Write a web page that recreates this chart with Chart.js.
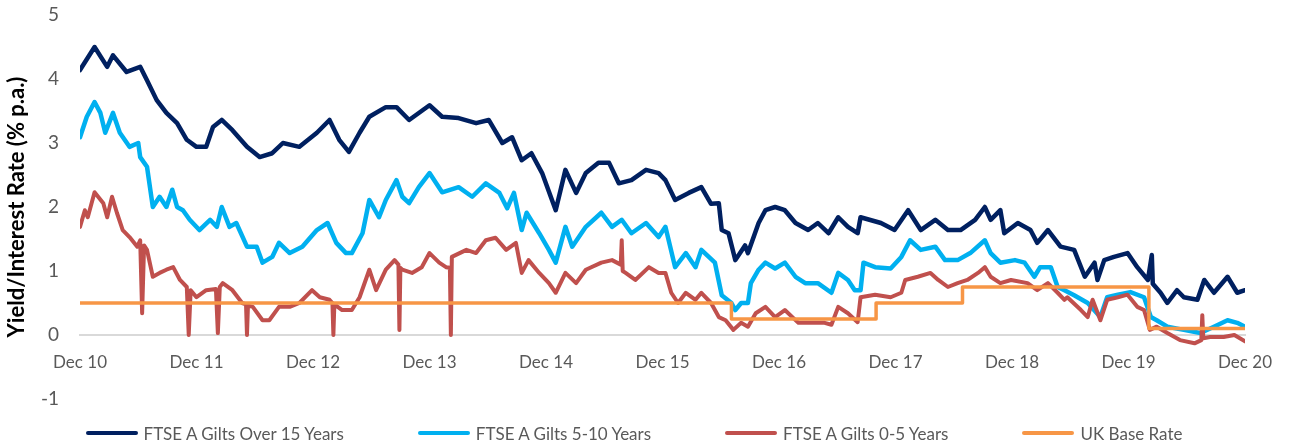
<!DOCTYPE html>
<html>
<head>
<meta charset="utf-8">
<script src="https://cdn.jsdelivr.net/npm/chart.js@4/dist/chart.umd.min.js"></script>
<style>
  body { margin: 0; background: #fff; }
  #wrap { position: relative; width: 1289px; height: 446px; }
  #chart { position: absolute; left: 0; top: 0; }
  #legend {
    position: absolute; left: 0; top: 421px; width: 1268px; height: 24px;
    display: flex; justify-content: center; align-items: center; gap: 74px;
    font-family: Lato, "Noto Sans", sans-serif; font-size: 17px; color: #595959;
  }
  #legend .item { display: flex; align-items: center; white-space: nowrap; }
  #legend .swatch { width: 52px; height: 4px; margin-right: 6px; border-radius: 2px; }
</style>
</head>
<body>
<div id="wrap">
  <canvas id="chart" width="1289" height="446"></canvas>
  <div id="legend"></div>
</div>
<script>
// x values are months since Dec 2010, y values are % p.a.
var tickLabels = ['Dec 10', 'Dec 11', 'Dec 12', 'Dec 13', 'Dec 14', 'Dec 15',
                  'Dec 16', 'Dec 17', 'Dec 18', 'Dec 19', 'Dec 20'];

var over15 = [
  [0,4.14],[1.5,4.5],[2.8,4.19],[3.4,4.37],[4.8,4.11],[6.2,4.19],[6.9,3.98],[7.9,3.67],
  [8.9,3.47],[10.0,3.31],[11.0,3.05],[12.0,2.94],[13.0,2.94],[13.7,3.25],[14.6,3.36],
  [15.7,3.2],[17.2,2.94],[18.5,2.78],[19.8,2.84],[20.9,3.0],[22.6,2.94],[24.4,3.16],
  [25.7,3.36],[26.7,3.05],[27.7,2.86],[28.8,3.16],[29.8,3.41],[31.5,3.56],[32.6,3.56],
  [33.9,3.36],[36.0,3.59],[37.3,3.41],[39.0,3.39],[40.8,3.31],[42.1,3.36],[43.5,3.0],
  [44.5,3.09],[45.5,2.73],[46.5,2.84],[47.6,2.53],[49.0,1.95],[50.0,2.58],[51.1,2.22],
  [52.1,2.53],[53.4,2.69],[54.5,2.69],[55.5,2.37],[56.8,2.42],[58.3,2.58],[59.6,2.53],
  [60.3,2.42],[61.3,2.11],[62.7,2.22],[64.0,2.31],[65.0,2.05],[65.8,2.06],[66.1,1.64],
  [66.8,1.59],[67.5,1.17],[68.5,1.4],[68.8,1.28],[69.9,1.75],[70.6,1.95],[71.6,2.0],
  [72.6,1.95],[73.7,1.75],[75.0,1.64],[76.0,1.75],[77.1,1.59],[78.1,1.84],[79.1,1.69],
  [80.1,1.59],[80.4,1.84],[82.5,1.75],[83.9,1.64],[85.3,1.95],[86.6,1.64],[88.1,1.8],
  [89.4,1.64],[90.7,1.64],[92.2,1.8],[93.2,2.0],[93.8,1.8],[94.8,1.95],[95.2,1.59],
  [96.6,1.75],[97.9,1.64],[98.6,1.44],[99.7,1.64],[101.0,1.38],[102.4,1.33],[103.5,0.91],
  [104.5,1.13],[104.8,0.86],[105.5,1.17],[106.5,1.22],[107.9,1.28],[108.9,1.06],[110.0,0.86],
  [110.4,1.25],[110.5,0.8],[111.3,0.66],[112.0,0.5],[113.0,0.7],[113.7,0.59],[115.1,0.55],
  [115.8,0.86],[116.8,0.66],[118.2,0.91],[119.2,0.66],[120,0.7]
];

var gilts5to10 = [
  [0,3.09],[0.7,3.41],[1.5,3.64],[2.1,3.47],[2.6,3.16],[3.4,3.47],[4.1,3.16],[5.1,2.94],
  [6.0,3.0],[6.2,2.78],[6.9,2.63],[7.5,2.0],[8.2,2.16],[8.9,2.0],[9.5,2.27],[10.0,2.0],
  [10.6,1.95],[11.3,1.8],[12.3,1.64],[13.4,1.8],[14.1,1.69],[14.6,2.0],[15.4,1.69],
  [16.1,1.75],[17.2,1.38],[18.2,1.38],[18.8,1.13],[19.8,1.22],[20.5,1.44],[21.6,1.28],
  [22.9,1.38],[24.4,1.64],[25.5,1.75],[26.4,1.44],[27.4,1.28],[28.0,1.28],[29.1,1.59],
  [29.8,2.11],[30.8,1.84],[31.5,2.11],[32.6,2.42],[33.2,2.16],[33.9,2.06],[34.9,2.31],
  [36.0,2.53],[37.3,2.23],[39.0,2.31],[40.4,2.16],[41.8,2.37],[43.2,2.22],[44.0,1.98],
  [44.7,2.22],[45.5,1.64],[46.0,1.91],[47.3,1.59],[48.3,1.33],[49.0,1.13],[50.0,1.69],
  [50.7,1.38],[52.1,1.69],[53.7,1.91],[54.8,1.69],[55.8,1.8],[56.8,1.59],[58.3,1.75],
  [59.6,1.53],[60.3,1.69],[61.3,1.06],[62.4,1.28],[63.4,1.06],[64.0,1.33],[65.4,1.13],
  [66.1,0.62],[67.1,0.5],[67.5,0.39],[68.1,0.5],[68.8,0.5],[69.1,0.81],[69.9,1.02],
  [70.6,1.13],[71.6,1.04],[72.6,1.13],[73.7,0.91],[74.7,0.81],[76.0,0.81],[77.4,0.66],
  [78.1,0.97],[79.1,0.86],[79.8,0.7],[80.4,0.7],[80.7,1.13],[81.9,1.06],[83.5,1.04],
  [84.6,1.22],[85.5,1.48],[86.6,1.33],[88.1,1.38],[89.1,1.17],[90.4,1.17],[91.7,1.28],
  [93.2,1.48],[93.8,1.28],[94.8,1.13],[96.3,1.17],[97.3,1.13],[98.3,0.91],[98.9,1.06],
  [100.0,1.06],[100.7,0.75],[101.4,0.7],[102.4,0.62],[103.8,0.5],[105.1,0.28],[105.8,0.59],
  [106.9,0.63],[108.2,0.67],[109.6,0.59],[110.3,0.28],[110.9,0.23],[112.0,0.13],[113.7,0.08],
  [115.4,0.03],[116.8,0.13],[118.2,0.23],[119.2,0.19],[120,0.13]
];

var gilts0to5 = [
  [0,1.69],[0.5,1.95],[0.8,1.84],[1.5,2.23],[2.4,2.06],[2.8,1.84],[3.3,2.16],[3.8,1.91],
  [4.4,1.64],[5.1,1.53],[5.9,1.38],[6.2,1.48],[6.4,0.34],[6.6,1.4],[6.9,1.33],[7.5,0.91],
  [8.2,0.97],[8.9,1.02],[9.6,1.06],[10.3,0.86],[11.0,0.75],[11.2,0],[11.4,0.7],[12.0,0.59],
  [13.0,0.7],[14.0,0.72],[14.2,0.03],[14.4,0.75],[14.7,0.81],[15.7,0.7],[16.7,0.5],
  [17.1,0.48],[17.2,0],[17.3,0.46],[17.8,0.44],[18.8,0.23],[19.5,0.23],[20.5,0.44],
  [21.6,0.44],[22.6,0.5],[23.9,0.7],[24.7,0.59],[25.7,0.55],[26.0,0.5],[26.1,0],[26.2,0.48],
  [27.0,0.39],[28.0,0.39],[28.8,0.59],[29.8,1.02],[30.5,0.7],[31.5,1.02],[32.4,1.17],
  [32.8,1.1],[32.9,0.08],[33.0,1.05],[33.2,1.02],[34.2,0.97],[35.2,1.06],[36.0,1.28],
  [37.0,1.13],[37.7,1.06],[38.1,1.05],[38.2,0],[38.3,1.22],[39.8,1.33],[40.8,1.28],
  [41.8,1.48],[42.8,1.52],[43.9,1.33],[44.9,1.44],[45.5,0.97],[46.2,1.17],[47.3,0.97],
  [48.3,0.81],[49.0,0.66],[50.0,0.97],[51.1,0.81],[52.1,1.02],[53.7,1.13],[54.8,1.17],
  [55.7,1.1],[55.8,1.48],[55.9,1.0],[56.2,0.97],[57.2,0.86],[58.6,1.06],[59.6,0.97],
  [60.3,0.97],[60.9,0.66],[61.6,0.5],[62.4,0.66],[63.4,0.55],[64.0,0.66],[65.0,0.5],
  [65.8,0.28],[66.5,0.23],[67.3,0.08],[68.1,0.19],[68.8,0.13],[69.6,0.34],[70.6,0.44],
  [71.6,0.28],[72.6,0.39],[74.0,0.19],[75.3,0.19],[76.7,0.19],[77.4,0.16],[78.1,0.44],
  [79.1,0.34],[80.1,0.2],[80.4,0.59],[81.9,0.63],[83.5,0.59],[84.6,0.66],[85.0,0.86],
  [86.3,0.91],[87.6,0.97],[88.4,0.86],[89.4,0.75],[90.4,0.81],[91.4,0.86],[92.5,0.97],
  [93.2,1.06],[93.8,0.91],[94.8,0.81],[95.9,0.86],[97.6,0.81],[98.6,0.7],[99.7,0.81],
  [100.7,0.66],[101.4,0.55],[101.7,0.59],[103.1,0.39],[103.8,0.28],[104.3,0.55],[105.1,0.23],
  [105.8,0.55],[106.9,0.59],[107.9,0.63],[108.9,0.44],[109.6,0.39],[110.2,0.08],[110.9,0.13],
  [112.0,0.03],[113.3,-0.08],[114.8,-0.13],[115.5,-0.08],[115.6,0.31],[115.7,-0.05],
  [116.4,-0.03],[117.8,-0.03],[118.9,0],[120,-0.1]
];

// Bank Rate: each point holds until the next change
var baseRate = [[0,0.5],[67.1,0.25],[82.0,0.5],[90.9,0.75],[110.1,0.1],[120,0.1]];

function toPoints(arr) {
  return arr.map(function (p) { return { x: p[0], y: p[1] }; });
}

var grey = '#595959';
var font = 'Lato, "Noto Sans", sans-serif';

var chart = new Chart(document.getElementById('chart'), {
  type: 'line',
  data: {
    datasets: [
      { label: 'FTSE A Gilts Over 15 Years', data: toPoints(over15), borderColor: '#002060', borderWidth: 4.5, order: 3 },
      { label: 'FTSE A Gilts 5-10 Years', data: toPoints(gilts5to10), borderColor: '#00B0F0', borderWidth: 4.5, order: 2 },
      { label: 'FTSE A Gilts 0-5 Years', data: toPoints(gilts0to5), borderColor: '#C0504D', borderWidth: 4, order: 1 },
      { label: 'UK Base Rate', data: toPoints(baseRate), borderColor: '#F79646', borderWidth: 3.5, stepped: 'before', order: 0 }
    ]
  },
  options: {
    responsive: false,
    animation: false,
    layout: { padding: { top: 15, right: 42, bottom: 47, left: 0 } },
    elements: { point: { radius: 0 }, line: { tension: 0, borderJoinStyle: 'round', borderCapStyle: 'round' } },
    plugins: { legend: { display: false }, tooltip: { enabled: false } },
    scales: {
      x: {
        type: 'linear',
        position: { y: 0 },
        min: 0, max: 120,
        grid: { display: false, drawTicks: false },
        border: { display: true, color: '#D9D9D9', width: 2 },
        ticks: {
          stepSize: 12, padding: 17, color: grey, maxRotation: 0,
          font: { family: font, size: 17 },
          callback: function (v) { return tickLabels[Math.round(v / 12)]; }
        }
      },
      y: {
        min: -1, max: 5,
        grid: { display: false, drawTicks: false },
        border: { display: false },
        ticks: { stepSize: 1, padding: 21, color: grey, font: { family: font, size: 19 } },
        title: {
          display: true, text: 'Yield/Interest Rate (% p.a.)', color: '#000',
          font: { family: font, size: 22, weight: 'bold' }, padding: { top: 4, bottom: 0 }
        },
        afterFit: function (scale) {
          scale.width = 80;
          scale.paddingTop = 0;
          scale.paddingBottom = 0;
        }
      }
    }
  }
});

// legend built from the datasets
var legendEl = document.getElementById('legend');
chart.data.datasets.forEach(function (ds) {
  var item = document.createElement('div');
  item.className = 'item';
  var sw = document.createElement('span');
  sw.className = 'swatch';
  sw.style.background = ds.borderColor;
  var txt = document.createElement('span');
  txt.textContent = ds.label;
  item.appendChild(sw);
  item.appendChild(txt);
  legendEl.appendChild(item);
});
</script>
</body>
</html>
